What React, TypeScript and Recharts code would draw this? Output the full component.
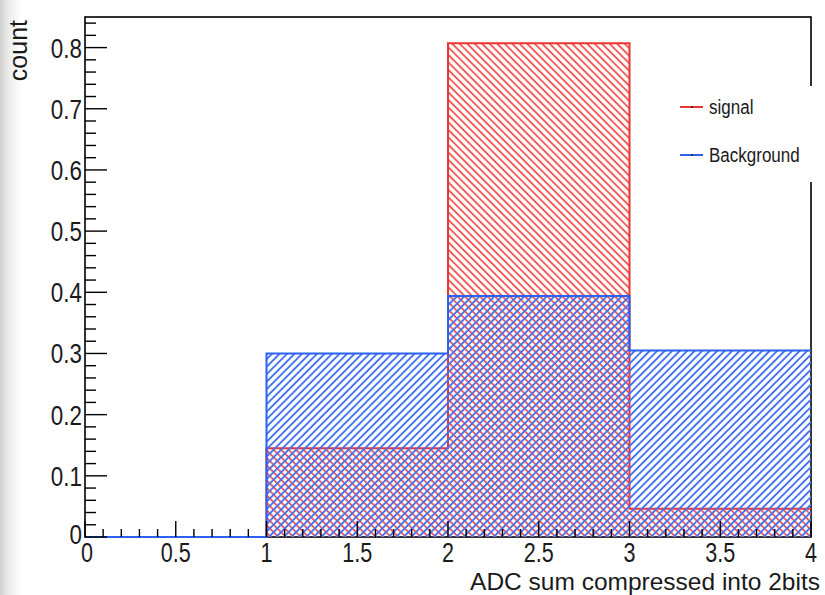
import React from 'react';
import {
  ComposedChart,
  Area,
  XAxis,
  YAxis,
  Legend,
  Label,
} from 'recharts';

// histogram bins (edges) and normalised counts per bin
const binEdges = [0, 1, 2, 3, 4];
const signalCounts = [0, 0.145, 0.807, 0.046];
const backgroundCounts = [0, 0.3, 0.394, 0.305];

// axis ticks: majors get a label, minors are just short marks
const xTicks = Array.from({ length: 41 }, (_, i) => +(i * 0.1).toFixed(1));
const yTicks = Array.from({ length: 43 }, (_, i) => +(i * 0.02).toFixed(2));

// step data: the last edge repeats the last bin so the step reaches x=4
const histData = binEdges.map((x, i) => ({
  x,
  signal: signalCounts[Math.min(i, signalCounts.length - 1)],
  background: backgroundCounts[Math.min(i, backgroundCounts.length - 1)],
}));

const RED = '#ee3333';
const BLUE = '#2b60f0';
const FONT = '"Liberation Sans", Arial, Helvetica, sans-serif';

const YTick = (props: any) => {
  const { x, y, payload } = props;
  const i = Math.round(payload.value * 50);
  const major = i % 5 === 0;
  const label = i === 0 ? '0' : (i / 50).toFixed(1);
  return (
    <g>
      <line x1={x} x2={x + (major ? 22 : 11)} y1={y} y2={y} stroke="#000" strokeWidth={1.4} />
      {major && (
        <text
          transform={`translate(${x - 3},${y + (i === 0 ? 7 : 10)}) scale(0.8,1)`}
          textAnchor="end"
          fontSize={28}
          fontFamily={FONT}
          fill="#1a1a1a"
        >
          {label}
        </text>
      )}
    </g>
  );
};

const XTick = (props: any) => {
  const { x, y, payload } = props;
  const i = Math.round(payload.value * 10);
  const major = i % 5 === 0;
  const label = i % 10 === 0 ? String(i / 10) : (i / 10).toFixed(1);
  return (
    <g>
      <line x1={x} x2={x} y1={y} y2={y - (major ? 16 : 8)} stroke="#000" strokeWidth={1.4} />
      {major && (
        <text
          transform={`translate(${x + (i === 0 ? 2 : 0)},${y + 25}) scale(0.8,1)`}
          textAnchor="middle"
          fontSize={27}
          fontFamily={FONT}
          fill="#1a1a1a"
        >
          {label}
        </text>
      )}
    </g>
  );
};

const renderLegend = () => {
  const rows = [
    { name: 'signal', color: RED },
    { name: 'Background', color: BLUE },
  ];
  return (
    <div style={{ background: '#fff', width: 157, height: 96, position: 'relative' }}>
      {rows.map((r, k) => (
        <div
          key={r.name}
          style={{ position: 'absolute', left: 12, top: 9 + k * 48, height: 24, display: 'flex', alignItems: 'center' }}
        >
          <div style={{ width: 23, height: 2, background: r.color, position: 'relative' }}>
            <div style={{ position: 'absolute', left: 11, top: 0, width: 2, height: 2, background: '#333' }} />
          </div>
          <span
            style={{
              marginLeft: 6,
              fontFamily: FONT,
              fontSize: 20,
              color: '#1a1a1a',
              display: 'inline-block',
              transform: 'scaleX(0.85)',
              transformOrigin: 'left center',
              whiteSpace: 'nowrap',
            }}
          >
            {r.name}
          </span>
        </div>
      ))}
    </div>
  );
};

export default function App() {
  return (
    <div style={{ position: 'absolute', left: 0, top: 0, width: 825, height: 595, background: '#fff', overflow: 'hidden' }}>
      {/* grey strip on the left edge */}
      <div
        style={{
          position: 'absolute',
          left: 0,
          top: 0,
          width: 22,
          height: 595,
          background: 'linear-gradient(to right, #cfcfcf, #ececec 40%, #ffffff)',
        }}
      />
      {/* plot frame, behind the histograms */}
      <svg width={825} height={595} style={{ position: 'absolute', left: 0, top: 0 }}>
        <rect x={85} y={17} width={726} height={520} fill="none" stroke="#000" strokeWidth={1.6} />
      </svg>
      <div style={{ position: 'absolute', left: 0, top: 0 }}>
        <ComposedChart
          width={825}
          height={595}
          data={histData}
          margin={{ top: 17, right: 14, left: 0, bottom: 0 }}
        >
          <defs>
            <pattern id="hatchRed" patternUnits="userSpaceOnUse" width={5.3} height={5.3} patternTransform="rotate(-45)">
              <line x1={2.65} y1={0} x2={2.65} y2={5.3} stroke="#f25a5a" strokeWidth={1.9} />
            </pattern>
            <pattern id="hatchBlue" patternUnits="userSpaceOnUse" width={5.3} height={5.3} patternTransform="rotate(45)">
              <line x1={2.65} y1={0} x2={2.65} y2={5.3} stroke="#4372f0" strokeWidth={1.9} />
            </pattern>
          </defs>
          <Area
            type="stepAfter"
            dataKey="signal"
            name="signal"
            stroke={RED}
            strokeWidth={2}
            fill="url(#hatchRed)"
            fillOpacity={1}
            isAnimationActive={false}
            dot={false}
            activeDot={false}
          />
          <Area
            type="stepAfter"
            dataKey="background"
            name="Background"
            stroke={BLUE}
            strokeWidth={2}
            fill="url(#hatchBlue)"
            fillOpacity={1}
            isAnimationActive={false}
            dot={false}
            activeDot={false}
          />
          <XAxis
            dataKey="x"
            type="number"
            domain={[0, 4]}
            ticks={xTicks}
            interval={0}
            height={58}
            axisLine={false}
            tickLine={false}
            tickSize={0}
            tickMargin={0}
            tick={XTick}
          >
            <Label
              content={() => (
                <text x={820} y={590} textAnchor="end" fontSize={24.5} fontFamily={FONT} fill="#1a1a1a">
                  ADC sum compressed into 2bits
                </text>
              )}
            />
          </XAxis>
          <YAxis
            type="number"
            domain={[0, 0.85]}
            ticks={yTicks}
            interval={0}
            width={85}
            axisLine={false}
            tickLine={false}
            tickSize={0}
            tickMargin={0}
            tick={YTick}
          >
            <Label
              content={() => (
                <text
                  transform="translate(27,20) rotate(-90)"
                  textAnchor="end"
                  fontSize={25}
                  fontFamily={FONT}
                  fill="#1a1a1a"
                >
                  count
                </text>
              )}
            />
          </YAxis>
          <Legend
            layout="horizontal"
            verticalAlign="middle"
            align="center"
            content={renderLegend}
            wrapperStyle={{ left: 668, top: 86, width: 157, height: 96 }}
          />
        </ComposedChart>
      </div>
    </div>
  );
}
